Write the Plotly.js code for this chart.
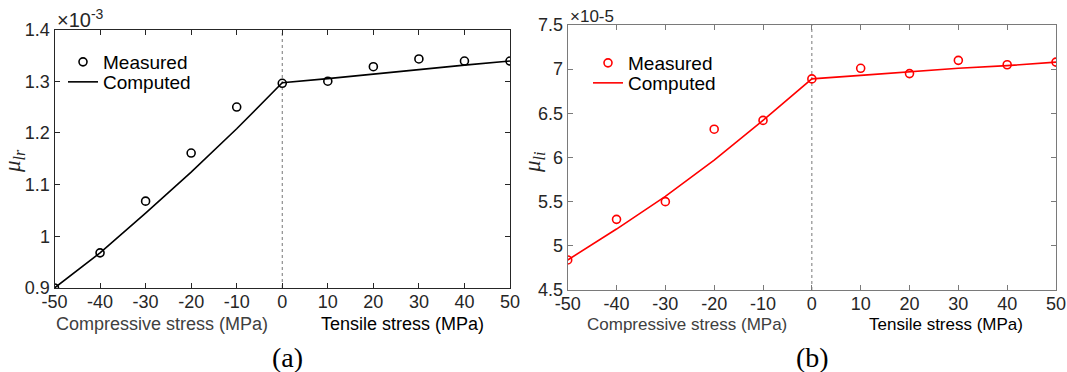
<!DOCTYPE html>
<html>
<head>
<meta charset="utf-8">
<script src="https://cdn.plot.ly/plotly-3.0.1.min.js"></script>
<style>
  html, body { margin: 0; padding: 0; background: #fff; }
  #chart { width: 1067px; height: 372px; }
</style>
</head>
<body>
<div id="chart"></div>
<script>
// Stress levels (MPa): negative = compressive, positive = tensile
const stress = [-50, -40, -30, -20, -10, 0, 10, 20, 30, 40, 50];

// (a) real part of permeability, in units of 1e-3
const lrMeasured = [0.900, 0.968, 1.068, 1.161, 1.250, 1.296, 1.300, 1.328, 1.343, 1.339, 1.339];
const lrComputed = [0.900, 0.968, 1.045, 1.124, 1.208, 1.297, 1.305, 1.314, 1.322, 1.331, 1.339];

// (b) imaginary part of permeability, in units of 1e-5
const liMeasured = [4.84, 5.30, 5.50, 6.32, 6.42, 6.89, 7.01, 6.95, 7.10, 7.05, 7.08];
const liComputed = [4.84, 5.19, 5.56, 5.97, 6.42, 6.89, 6.93, 6.97, 7.01, 7.04, 7.08];

// Tick values and labels
const xTicks = [-50, -40, -30, -20, -10, 0, 10, 20, 30, 40, 50];
const xTickText = ['-50', '-40', '-30', '-20', '-10', '0', '10', '20', '30', '40', '50'];
const lrTicks = [0.9, 1.0, 1.1, 1.2, 1.3, 1.4];
const lrTickText = ['0.9', '1', '1.1', '1.2', '1.3', '1.4'];
const liTicks = [4.5, 5, 5.5, 6, 6.5, 7, 7.5];
const liTickText = ['4.5', '5', '5.5', '6', '6.5', '7', '7.5'];

const W = 1067, H = 372;
const px = v => v / W;          // horizontal pixel -> paper fraction
const py = v => (H - v) / H;    // vertical pixel (from top) -> paper fraction

const SANS = 'Liberation Sans, Arial, sans-serif';
const SERIF = 'Liberation Serif, Times New Roman, serif';
const RED = '#ff0000';

const traces = [
  {
    x: stress, y: lrMeasured, xaxis: 'x', yaxis: 'y', name: 'Measured',
    mode: 'markers', legend: 'legend',
    marker: { symbol: 'circle-open', size: 8, color: '#000', line: { width: 1.6, color: '#000' } }
  },
  {
    x: stress, y: lrComputed, xaxis: 'x', yaxis: 'y', name: 'Computed',
    mode: 'lines', legend: 'legend2',
    line: { color: '#000', width: 1.6 }
  },
  {
    x: stress, y: liMeasured, xaxis: 'x2', yaxis: 'y2', name: 'Measured',
    mode: 'markers', legend: 'legend3',
    marker: { symbol: 'circle-open', size: 8, color: RED, line: { width: 1.6, color: RED } }
  },
  {
    x: stress, y: liComputed, xaxis: 'x2', yaxis: 'y2', name: 'Computed',
    mode: 'lines', legend: 'legend4',
    line: { color: RED, width: 1.6 }
  }
];

function xAxis(domain, anchor, color) {
  return {
    domain: domain, anchor: anchor, range: [-50, 50],
    tickvals: xTicks, ticktext: xTickText,
    ticks: 'inside', ticklen: 5, tickcolor: color, tickwidth: 1,
    ticklabelstandoff: -3,
    showline: true, linecolor: color, linewidth: 1, mirror: 'ticks',
    showgrid: false, zeroline: false,
    tickfont: { family: SANS, size: 18, color: '#262626' }
  };
}
function yAxis(domain, anchor, range, vals, text, color) {
  return {
    domain: domain, anchor: anchor, range: range,
    tickvals: vals, ticktext: text,
    ticks: 'inside', ticklen: 5, tickcolor: color, tickwidth: 1,
    showline: true, linecolor: color, linewidth: 1, mirror: 'ticks',
    showgrid: false, zeroline: false,
    tickfont: { family: SANS, size: 18, color: '#262626' }
  };
}

function legendAt(xPix, yPix) {
  return {
    x: px(xPix), y: py(yPix), xanchor: 'left', yanchor: 'middle',
    bgcolor: 'rgba(0,0,0,0)', borderwidth: 0, itemwidth: 30,
    font: { family: SANS, size: 19, color: '#000' }
  };
}

function note(text, xPix, yPix, opts) {
  return Object.assign({
    text: text, xref: 'paper', yref: 'paper', x: px(xPix), y: py(yPix),
    showarrow: false, xanchor: 'center', yanchor: 'middle'
  }, opts);
}

const layout = {
  width: W, height: H,
  margin: { l: 0, r: 0, t: 0, b: 0 },
  paper_bgcolor: '#fff', plot_bgcolor: '#fff',
  showlegend: true,
  xaxis: xAxis([px(54.5), px(510)], 'y', '#262626'),
  yaxis: yAxis([py(288), py(29.5)], 'x', [0.9, 1.4], lrTicks, lrTickText, '#262626'),
  xaxis2: xAxis([px(567.7), px(1056)], 'y2', '#7a7a7a'),
  yaxis2: yAxis([py(290), py(25)], 'x2', [4.5, 7.5], liTicks, liTickText, '#7a7a7a'),
  legend: legendAt(63, 62),
  legend2: legendAt(63, 82),
  legend3: legendAt(588, 63),
  legend4: legendAt(588, 83),
  shapes: [
    { type: 'line', xref: 'x', yref: 'y domain', x0: 0, x1: 0, y0: 0, y1: 1,
      line: { color: '#777', width: 1, dash: 'dot' }, layer: 'below' },
    { type: 'line', xref: 'x2', yref: 'y2 domain', x0: 0, x1: 0, y0: 0, y1: 1,
      line: { color: '#777', width: 1, dash: 'dot' }, layer: 'below' }
  ],
  annotations: [
    note('×10<sup>-3</sup>', 55, 19, { xanchor: 'left', font: { family: SANS, size: 20, color: '#262626' } }),
    note('×10-5', 568, 17, { xanchor: 'left', font: { family: SANS, size: 17, color: '#262626' } }),
    note('<i>μ</i><sub><i>lr</i></sub>', 14, 161, { textangle: -90, font: { family: SERIF, size: 23, color: '#262626' } }),
    note('<i>μ</i><sub><i>li</i></sub>', 534, 162, { textangle: -90, font: { family: SERIF, size: 23, color: '#262626' } }),
    note('Compressive stress (MPa)', 162, 324, { font: { family: SANS, size: 18, color: '#404040' } }),
    note('Tensile stress (MPa)', 402, 324, { font: { family: SANS, size: 18, color: '#000' } }),
    note('Compressive stress (MPa)', 687, 324, { font: { family: SANS, size: 17, color: '#404040' } }),
    note('Tensile stress (MPa)', 946, 324, { font: { family: SANS, size: 17, color: '#000' } }),
    note('(a)', 287, 357, { font: { family: SERIF, size: 28, color: '#000' } }),
    note('(b)', 812, 357, { font: { family: SERIF, size: 28, color: '#000' } })
  ]
};

Plotly.newPlot('chart', traces, layout, { staticPlot: true, displayModeBar: false });
</script>
</body>
</html>
